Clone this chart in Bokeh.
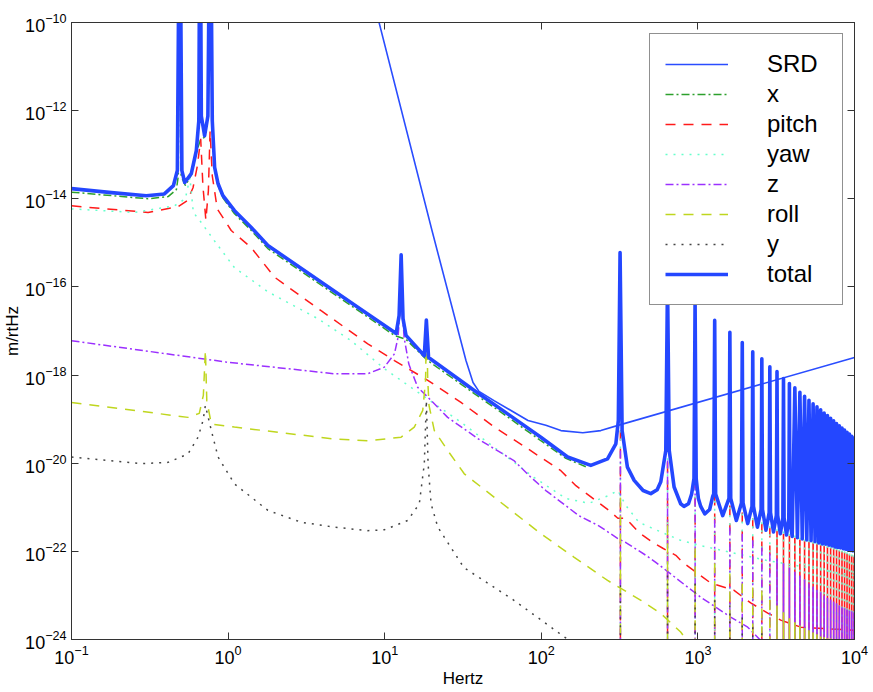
import numpy as np
from bokeh.plotting import figure
from bokeh.models import FixedTicker, LogAxis, Legend, LegendItem
from bokeh.embed import file_html
from bokeh.resources import INLINE

# ---------------- data (log10 of Hz and of m/rtHz) ----------------
violin_hz = [320, 640, 960, 1280, 1600, 1920, 2240, 2560, 2880, 3200, 3520, 3840, 4160,
             4480, 4800, 5120, 5440, 5760, 6080, 6400, 6720, 7040, 7360, 7680, 8000,
             8320, 8640, 8960, 9280, 9600, 9920]

srd_logf = [0.929, 1.302, 1.519, 1.564, 1.602, 1.698, 1.915, 2.029, 2.125, 2.265, 2.380, 2.501, 4.0]
srd_logv = [-9.51, -14.72, -17.67, -18.17, -18.37, -18.58, -19.03, -19.14, -19.26, -19.31, -19.26, -19.13, -17.60]

total_logf = [-1.0, -0.745, -0.522, -0.407, -0.349, -0.324, -0.309, -0.295, -0.277, -0.235,
              -0.203, -0.187, -0.179, -0.171, -0.150, -0.129, -0.114, -0.101, -0.086, -0.064,
              -0.033, 0.041, 0.148, 0.254, 0.849, 1.062, 1.073, 1.092, 1.105, 1.117,
              1.136, 1.253, 1.266, 1.280, 1.572, 1.785, 1.997, 2.168, 2.316, 2.423,
              2.476, 2.492, 2.503, 2.516, 2.550, 2.593, 2.650, 2.699, 2.740, 2.763,
              2.795, 2.806, 2.817, 2.848, 2.890, 2.911, 2.940, 2.960, 2.975, 2.982,
              2.989, 3.003, 3.018, 3.044, 3.075, 3.095]
total_logv = [-13.77, -13.86, -13.93, -13.89, -13.70, -13.36, -6.0, -13.36, -13.63, -13.43,
              -12.91, -12.23, -6.0, -12.12, -12.57, -12.12, -6.0, -12.23, -13.29, -13.66,
              -13.93, -14.27, -14.65, -15.06, -16.51, -17.03, -17.06, -16.65, -15.27, -16.72,
              -17.10, -17.56, -16.75, -17.60, -18.35, -18.88, -19.41, -19.86, -20.05, -19.90,
              -19.56, -19.03, -15.22, -19.26, -20.09, -20.39, -20.62, -20.69, -20.60, -20.42,
              -19.71, -15.86, -19.71, -20.54, -20.92, -20.98, -20.92, -20.70, -20.35, -16.32,
              -20.35, -20.80, -20.98, -21.15, -21.05, -20.75]
# violin modes 4..31 of the total: shoulders (modes 4..12), peaks and troughs
total_lshoulder_hz = [1262, 1580, 1898, 2216, 2534, 2852, 3170, 3488, 3806]
total_rshoulder_hz = [1298, 1620, 1942, 2264, 2586, 2908, 3230, 3552, 3874]
total_shoulder_logv = [-20.70, -20.80, -20.90, -20.98, -21.05, -21.12, -21.18, -21.24, -21.30]
total_peak_logv = [-16.76, -17.03, -17.26, -17.47, -17.63, -17.81, -17.92, -18.08, -18.19, -18.29,
                   -18.39, -18.48, -18.57, -18.65, -18.72, -18.79, -18.86, -18.92, -18.98, -19.04,
                   -19.10, -19.15, -19.20, -19.25, -19.30, -19.34, -19.39, -19.43]
total_trough_hz = [1440, 1760, 2080, 2400, 2720, 3040, 3360, 3680, 4000, 4320, 4640, 4960, 5280,
                   5600, 5920, 6240, 6560, 6880, 7200, 7520, 7840, 8160, 8480, 8800, 9120, 9440, 9760]
total_trough_logv = [-21.19, -21.30, -21.37, -21.45, -21.52, -21.56, -21.60, -21.63, -21.66, -21.69,
                     -21.72, -21.74, -21.76, -21.78, -21.81, -21.83, -21.84, -21.86, -21.88, -21.90,
                     -21.91, -21.92, -21.94, -21.95, -21.97, -21.98, -21.99]
total_end_logf = 4.003
total_end_logv = -21.0

x_logf = [-1.0, -0.511, -0.383, -0.330, -0.318, -0.309, -0.300, -0.273, -0.235, -0.203,
          -0.178, -0.150, -0.129, -0.114, -0.101, -0.086, -0.064, -0.033, 0.041, 0.148,
          0.254, 0.849, 1.062, 1.136, 1.274, 1.572, 1.785, 1.997, 2.157, 2.284]
x_logv = [-13.85, -14.00, -13.95, -13.79, -13.48, -6.0, -13.48, -13.70, -13.46, -12.95,
          -12.68, -12.60, -12.15, -6.0, -12.26, -13.32, -13.70, -13.98, -14.34, -14.72,
          -15.13, -16.58, -17.10, -17.19, -17.67, -18.42, -18.95, -19.49, -19.89, -20.08]

pitch_logf = [-1.0, -0.511, -0.320, -0.260, -0.224, -0.196, -0.175, -0.161, -0.142, -0.126,
              -0.115, -0.101, -0.069, 0.020, 0.148, 0.297, 0.594, 0.892, 1.062, 1.275,
              1.487, 1.700, 1.913, 2.125, 2.221, 2.304, 2.431, 2.489, 2.540, 2.623,
              2.712, 2.776, 2.859, 2.903, 2.999, 3.082, 3.229, 3.337, 3.446, 3.529, 3.657, 4.0]
pitch_logv = [-14.16, -14.31, -14.18, -14.04, -13.75, -13.25, -12.64, -13.70, -14.48, -13.82,
              -12.46, -13.48, -14.23, -14.72, -15.11, -15.78, -16.54, -17.29, -17.67, -18.12,
              -18.62, -19.18, -19.67, -20.17, -20.51, -20.73, -21.07, -21.25, -21.25, -21.57,
              -21.80, -21.93, -22.09, -22.25, -22.50, -22.72, -22.88, -23.17, -23.40, -23.56, -23.72, -23.79]
pitch_spike_logv = [-19.26, -19.98, -20.35, -20.73, -20.96, -21.12, -21.25, -21.37, -21.46, -21.53,
                    -21.60, -21.64, -21.69, -21.73, -21.75, -21.78, -21.80, -21.82, -21.84, -21.87,
                    -21.89, -21.91, -21.93, -21.96, -21.98, -22.00, -22.02, -22.05, -22.07, -22.09, -22.11]

yaw_logf = [-1.0, -0.598, -0.343, -0.273, -0.244, -0.222, -0.171, -0.088, 0.040, 0.254,
            0.573, 0.786, 0.996, 1.168, 1.487, 1.953, 2.029, 2.157, 2.304, 2.431,
            2.489, 2.540, 2.623, 2.712, 2.890, 3.018, 3.446, 4.0]
yaw_logv = [-14.23, -14.31, -14.16, -14.00, -13.52, -14.31, -14.54, -14.95, -15.56, -16.11,
            -16.72, -17.22, -17.85, -18.28, -19.07, -20.32, -20.50, -20.80, -20.91, -20.73,
            -20.62, -20.96, -21.34, -21.48, -21.75, -21.87, -22.21, -22.55]
yaw_spike_logv = [-19.26, -19.89, -20.39, -20.85, -21.00, -21.14, -21.25, -21.34, -21.43, -21.50,
                  -21.55, -21.60, -21.64, -21.69, -21.73, -21.75, -21.78, -21.80, -21.82, -21.84,
                  -21.87, -21.89, -21.91, -21.93, -21.96, -21.98, -22.00, -22.02, -22.05, -22.07, -22.09]

z_logf = [-1.0, 0.0, 0.679, 0.892, 0.998, 1.062, 1.085, 1.098, 1.105, 1.112,
          1.124, 1.154, 1.211, 1.275, 1.402, 1.615, 1.825, 1.934, 2.029, 2.240,
          2.367, 2.489, 2.540, 2.668, 2.731, 3.018, 3.209, 3.318, 3.400, 3.463]
z_logv = [-17.22, -17.71, -17.97, -17.97, -17.82, -17.52, -17.15, -16.50, -15.40, -16.50,
          -17.15, -17.75, -18.28, -18.50, -18.96, -19.49, -19.94, -20.32, -20.62, -21.19,
          -21.42, -21.71, -21.80, -22.09, -22.25, -23.04, -23.49, -23.72, -24.02, -24.47]
z_spike_logv = [-19.71, -19.94, -20.44, -21.28, -21.46, -21.60, -21.75, -21.91, -22.05, -22.16,
                -22.27, -22.37, -22.46, -22.55, -22.64, -22.73, -22.80, -22.87, -22.93, -23.00,
                -23.05, -23.09, -23.14, -23.18, -23.23, -23.27, -23.29, -23.32, -23.34, -23.36, -23.38]

roll_logf = [-1.0, -0.256, -0.184, -0.158, -0.145, -0.136, -0.107, 0.040, 0.677, 0.892,
             1.105, 1.189, 1.243, 1.261, 1.267, 1.275, 1.283, 1.317, 1.402, 1.508,
             1.997, 2.208, 2.423, 2.636, 2.763, 2.890, 2.954]
roll_logv = [-18.62, -18.96, -18.87, -18.46, -17.44, -18.58, -19.11, -19.18, -19.45, -19.49,
             -19.41, -19.18, -18.80, -18.12, -16.77, -18.12, -18.69, -19.26, -19.71, -20.24,
             -21.60, -22.13, -22.66, -23.11, -23.41, -23.83, -24.13]
roll_spike_logv = [-20.78, -21.41, -21.93, -22.27, -22.50, -22.73, -22.82, -22.89, -23.11, -23.23,
                   -23.38, -23.52, -23.61, -23.68, -23.74, -23.79, -23.84, -23.88, -23.93, -23.95,
                   -23.97, -23.98, -23.99, -24.0]

y_logf = [-1.0, -0.554, -0.383, -0.256, -0.192, -0.160, -0.145, -0.107, -0.064, 0.041,
          0.254, 0.467, 0.679, 0.892, 0.998, 1.147, 1.221, 1.253, 1.266, 1.277,
          1.296, 1.339, 1.506, 1.825, 2.170, 2.221]
y_logv = [-19.86, -20.01, -19.98, -19.79, -19.41, -19.03, -18.69, -19.26, -19.86, -20.47,
          -21.07, -21.34, -21.45, -21.53, -21.51, -21.30, -20.92, -20.01, -18.58, -20.01,
          -20.92, -21.45, -22.37, -23.11, -24.00, -24.25]
y_spike_logv = [-22.77, -22.55, -22.73, -23.11, -23.23, -23.50, -23.72, -23.86]

x_ticks = [0.1, 1, 10, 100, 1000, 10000]
y_ticks = [1e-24, 1e-22, 1e-20, 1e-18, 1e-16, 1e-14, 1e-12, 1e-10]
spike_floor = 1e-26
dense_from = 9   # from the 10th violin mode on, peak and notch merge into solid bars

# ---------------- figure ----------------
FONT = "Liberation Sans"
p = figure(width=873, height=692, x_axis_type="log", y_axis_type="log",
           x_range=(0.1, 1e4), y_range=(1e-24, 1e-10),
           output_backend="svg", toolbar_location=None,
           min_border_left=70, min_border_right=19, min_border_top=22, min_border_bottom=53)
p.background_fill_color = "white"
p.border_fill_color = "white"
p.xgrid.visible = False
p.ygrid.visible = False
p.outline_line_color = "#222222"


def pts(logf, logv):
    return [10.0 ** a for a in logf], [10.0 ** b for b in logv]


def spikes(tops, lo, hi):
    # each resonance drawn from its peak straight down through its notch
    sel = list(zip(violin_hz, tops))[lo:hi]
    xs = [[f, f] for f, t in sel]
    ys = [[10.0 ** t, spike_floor] for f, t in sel]
    return xs, ys


styles = {
    "SRD":   dict(line_color="#2a4dff", line_width=1.6),
    "x":     dict(line_color="#2ca02c", line_width=1.5, line_dash="8 3 2 3"),
    "pitch": dict(line_color="#ff1a1a", line_width=1.5, line_dash="10 8"),
    "yaw":   dict(line_color="#66ffcc", line_width=1.5, line_dash="2 6"),
    "z":     dict(line_color="#9b30ff", line_width=1.5, line_dash="8 3 2 3"),
    "roll":  dict(line_color="#bfd61e", line_width=1.5, line_dash="10 8"),
    "y":     dict(line_color="#444444", line_width=1.5, line_dash="2 6"),
    "total": dict(line_color="#2447ff", line_width=3.6),
}
solid_bars = {"pitch", "z", "roll"}

renderers = {}
fx, fy = pts(srd_logf, srd_logv)
renderers["SRD"] = p.line(fx, fy, **styles["SRD"])

fx, fy = pts(x_logf, x_logv)
renderers["x"] = p.line(fx, fy, **styles["x"])

for name, lf, lv, sp in [("pitch", pitch_logf, pitch_logv, pitch_spike_logv),
                         ("yaw", yaw_logf, yaw_logv, yaw_spike_logv),
                         ("z", z_logf, z_logv, z_spike_logv),
                         ("roll", roll_logf, roll_logv, roll_spike_logv),
                         ("y", y_logf, y_logv, y_spike_logv)]:
    fx, fy = pts(lf, lv)
    renderers[name] = p.line(fx, fy, **styles[name])
    if name in solid_bars:
        sx, sy = spikes(sp, 0, dense_from)
        p.multi_line(sx, sy, **styles[name])
        sx, sy = spikes(sp, dense_from, len(sp))
        p.multi_line(sx, sy, line_color=styles[name]["line_color"], line_width=1.6)
    else:
        sx, sy = spikes(sp, 0, len(sp))
        p.multi_line(sx, sy, **styles[name])

# total: smooth part, then the comb of violin modes
tf, tv = pts(total_logf, total_logv)
for i, pk in enumerate(total_peak_logv):
    if i < len(total_lshoulder_hz):
        tf.append(total_lshoulder_hz[i])
        tv.append(10.0 ** total_shoulder_logv[i])
    tf.append(violin_hz[3 + i])
    tv.append(10.0 ** pk)
    if i < len(total_rshoulder_hz):
        tf.append(total_rshoulder_hz[i])
        tv.append(10.0 ** total_shoulder_logv[i])
    if i < len(total_trough_hz):
        tf.append(total_trough_hz[i])
        tv.append(10.0 ** total_trough_logv[i])
tf.append(10.0 ** total_end_logf)
tv.append(10.0 ** total_end_logv)
renderers["total"] = p.line(tf, tv, line_join="round", **styles["total"])

# ---------------- axes ----------------
AX = "#333333"
p.xaxis.ticker = FixedTicker(ticks=x_ticks)
p.yaxis.ticker = FixedTicker(ticks=y_ticks)
for ax in (p.xaxis[0], p.yaxis[0]):
    ax.major_tick_in = 7
    ax.major_tick_out = 0
    ax.minor_tick_line_color = None
    ax.axis_line_color = AX
    ax.major_tick_line_color = AX
    ax.major_label_text_font = FONT
    ax.major_label_text_font_size = "18px"
    ax.major_label_text_color = "black"
    ax.axis_label_text_font = FONT
    ax.axis_label_text_font_size = "17px"
    ax.axis_label_text_font_style = "normal"
    ax.axis_label_text_color = "black"
    ax.major_label_standoff = 5
p.xaxis.axis_label_standoff = 2
p.yaxis.axis_label_standoff = 0
p.xaxis.axis_label = "Hertz"
p.yaxis.axis_label = "m/rtHz"

for loc, tks in (("above", x_ticks), ("right", y_ticks)):
    extra = LogAxis(ticker=FixedTicker(ticks=tks), major_tick_in=7, major_tick_out=0,
                    minor_tick_line_color=None, axis_line_color=AX, major_tick_line_color=AX,
                    major_label_standoff=0, major_label_text_font_size="2px",
                    major_label_text_color=None)
    p.add_layout(extra, loc)

# ---------------- legend ----------------
order = ["SRD", "x", "pitch", "yaw", "z", "roll", "y", "total"]
legend = Legend(items=[LegendItem(label=n, renderers=[renderers[n]]) for n in order],
                location="top_right")
legend.label_text_font = FONT
legend.label_text_font_size = "24px"
legend.label_text_color = "black"
legend.padding = 15
legend.spacing = 0
legend.margin = 11
legend.glyph_width = 63
legend.glyph_height = 30
legend.label_height = 30
legend.label_width = 60
legend.label_standoff = 39
legend.border_line_color = "#222222"
legend.border_line_width = 1
legend.background_fill_color = "white"
legend.background_fill_alpha = 1.0
p.add_layout(legend)

open("out.html", "w").write(file_html(p, INLINE))
